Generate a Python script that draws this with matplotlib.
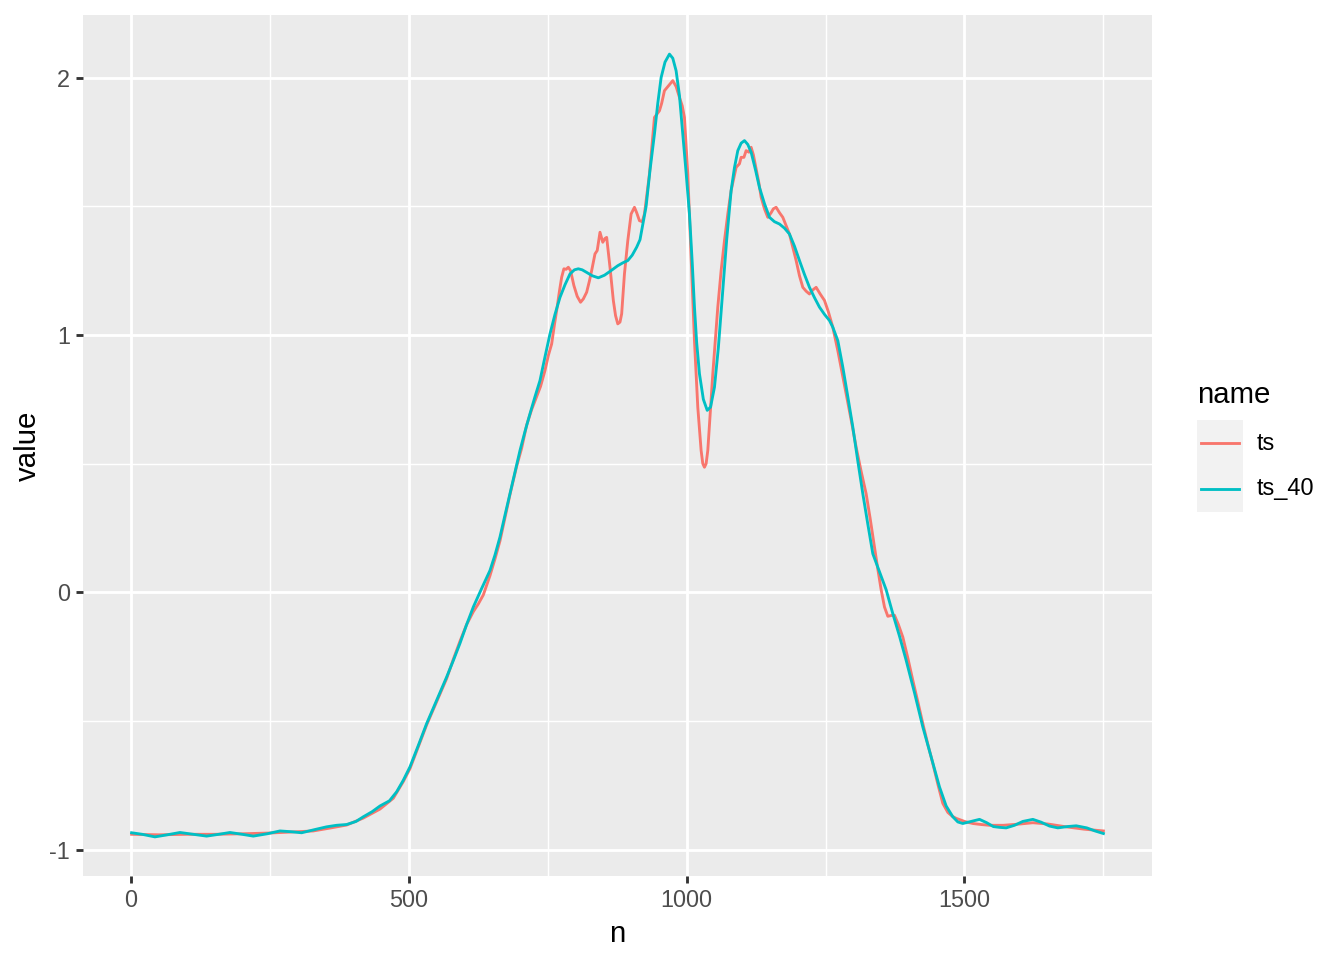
import matplotlib
matplotlib.use("Agg")
import matplotlib.pyplot as plt
from matplotlib.lines import Line2D
from matplotlib.patches import Rectangle

plt.rcParams['font.family'] = ['Liberation Sans', 'DejaVu Sans']
plt.rcParams['axes.unicode_minus'] = False

# series
ts_n = [1, 50, 100, 150, 200, 250, 300, 328, 360, 388, 418, 448, 472, 490, 502,
        517, 532, 550, 568, 580, 592, 604, 616, 625, 634, 646, 655, 664, 673, 682,
        694, 703, 712, 721, 730, 737, 745, 751, 757, 762, 766, 771, 775, 779, 783,
        787, 791, 797, 803, 809, 814, 820, 825, 829, 835, 839, 844, 849, 853, 856,
        862, 868, 872, 876, 880, 883, 888, 894, 900, 906, 910, 915, 920, 924, 933,
        942, 951, 955, 960, 968, 975, 981, 987, 992, 996, 1002, 1008, 1014, 1020,
        1026, 1029, 1032, 1035, 1038, 1047, 1056, 1062, 1068, 1074, 1080, 1089,
        1095, 1098, 1103, 1107, 1112, 1116, 1120, 1125, 1130, 1134, 1140, 1146,
        1152, 1156, 1161, 1167, 1173, 1179, 1185, 1191, 1197, 1203, 1209, 1215,
        1221, 1227, 1233, 1240, 1248, 1255, 1263, 1272, 1280, 1287, 1296, 1305,
        1314, 1323, 1330, 1338, 1344, 1350, 1356, 1362, 1368, 1374, 1381, 1389,
        1398, 1407, 1416, 1425, 1434, 1443, 1452, 1461, 1470, 1478, 1485, 1500,
        1515, 1530, 1545, 1570, 1600, 1623, 1650, 1683, 1715, 1750]
ts_v = [-0.94, -0.942, -0.94, -0.94, -0.938, -0.935, -0.93, -0.927, -0.915, -0.904,
        -0.877, -0.842, -0.80, -0.735, -0.685, -0.60, -0.515, -0.425, -0.335, -0.26,
        -0.19, -0.125, -0.075, -0.045, -0.01, 0.065, 0.13, 0.20, 0.29, 0.38,
        0.49, 0.56, 0.65, 0.71, 0.76, 0.80, 0.862, 0.92, 0.965, 1.04, 1.095, 1.17,
        1.224, 1.257, 1.255, 1.263, 1.25, 1.192, 1.15, 1.127, 1.14, 1.166, 1.21,
        1.25, 1.315, 1.328, 1.399, 1.36, 1.375, 1.379, 1.263, 1.134, 1.075, 1.043,
        1.05, 1.082, 1.237, 1.366, 1.47, 1.496, 1.475, 1.444, 1.44, 1.47, 1.625,
        1.845, 1.871, 1.90, 1.949, 1.97, 1.988, 1.965, 1.923, 1.89, 1.845, 1.625,
        1.302, 0.978, 0.719, 0.551, 0.50, 0.486, 0.50, 0.551, 0.849, 1.108, 1.25,
        1.366, 1.47, 1.561, 1.651, 1.665, 1.69, 1.69, 1.716, 1.71, 1.729, 1.70,
        1.645, 1.59, 1.535, 1.49, 1.457, 1.475, 1.49, 1.496, 1.475, 1.457, 1.425,
        1.392, 1.34, 1.289, 1.23, 1.185, 1.17, 1.159, 1.175, 1.185, 1.16, 1.134,
        1.09, 1.03, 0.939, 0.85, 0.771, 0.67, 0.564, 0.47, 0.383, 0.29, 0.176,
        0.09, 0.01, -0.057, -0.093, -0.09, -0.089, -0.125, -0.174, -0.255, -0.342,
        -0.425, -0.51, -0.59, -0.665, -0.745, -0.82, -0.855, -0.87, -0.878, -0.89,
        -0.898, -0.902, -0.905, -0.905, -0.90, -0.895, -0.90, -0.911, -0.92, -0.927]

ts40_n = [1, 20, 43, 65, 88, 112, 136, 158, 178, 200, 220, 245, 268, 288, 307, 330,
          352, 370, 388, 405, 418, 434, 448, 465, 478, 490, 502, 517, 532, 550, 568,
          580, 592, 604, 616, 631, 646, 655, 664, 673, 682, 691, 700, 709, 718, 727,
          736, 745, 754, 763, 772, 781, 790, 798, 805, 812, 820, 830, 841, 852, 862,
          876, 885, 894, 902, 910, 916, 921, 927, 934, 942, 948, 954, 961, 969, 975,
          981, 987, 993, 999, 1005, 1010, 1014, 1018, 1023, 1030, 1037, 1043, 1050,
          1057, 1065, 1072, 1080, 1086, 1092, 1098, 1104, 1110, 1116, 1124, 1131,
          1140, 1149, 1158, 1167, 1176, 1185, 1194, 1203, 1212, 1221, 1230, 1239,
          1248, 1257, 1263, 1272, 1281, 1290, 1299, 1308, 1317, 1326, 1335, 1347,
          1359, 1371, 1383, 1395, 1410, 1425, 1440, 1455, 1467, 1479, 1488, 1497,
          1512, 1527, 1540, 1552, 1563, 1575, 1590, 1605, 1623, 1638, 1653, 1668,
          1685, 1701, 1720, 1735, 1750]
ts40_v = [-0.934, -0.94, -0.95, -0.942, -0.933, -0.94, -0.947, -0.94, -0.933, -0.94,
          -0.947, -0.938, -0.927, -0.93, -0.934, -0.922, -0.911, -0.905, -0.902,
          -0.89, -0.872, -0.852, -0.83, -0.81, -0.775, -0.73, -0.678, -0.595, -0.51,
          -0.42, -0.329, -0.265, -0.198, -0.125, -0.057, 0.015, 0.085, 0.145, 0.215,
          0.30, 0.383, 0.467, 0.551, 0.625, 0.694, 0.76, 0.823, 0.915, 1.004, 1.08,
          1.146, 1.195, 1.237, 1.253, 1.257, 1.253, 1.243, 1.23, 1.222, 1.232, 1.247,
          1.269, 1.28, 1.289, 1.31, 1.341, 1.37, 1.43, 1.50, 1.64, 1.781, 1.90, 2.0,
          2.06, 2.091, 2.075, 2.026, 1.93, 1.781, 1.63, 1.47, 1.28, 1.108, 0.97,
          0.849, 0.75, 0.707, 0.72, 0.797, 0.95, 1.172, 1.37, 1.561, 1.65, 1.716,
          1.745, 1.755, 1.74, 1.71, 1.64, 1.573, 1.51, 1.457, 1.44, 1.431, 1.415,
          1.392, 1.345, 1.289, 1.235, 1.185, 1.145, 1.108, 1.08, 1.056, 1.03, 0.978,
          0.875, 0.76, 0.642, 0.51, 0.383, 0.265, 0.15, 0.08, 0.01, -0.083, -0.17,
          -0.264, -0.39, -0.523, -0.64, -0.756, -0.83, -0.872, -0.892, -0.898, -0.89,
          -0.882, -0.895, -0.91, -0.913, -0.915, -0.905, -0.89, -0.882, -0.893,
          -0.908, -0.915, -0.91, -0.907, -0.915, -0.927, -0.937]

series_names = ["ts", "ts_40"]
series_colors = ["#F8766D", "#00BFC4"]

fig = plt.figure(figsize=(7, 5), dpi=192)
ax = fig.add_axes([83 / 1344, 1 - 876 / 960, (1152 - 83) / 1344, (876 - 15) / 960])

ax.set_facecolor("#EBEBEB")
for s in ax.spines.values():
    s.set_visible(False)

ax.plot(ts_n, ts_v, color=series_colors[0], lw=1.07, zorder=3)
ax.plot(ts40_n, ts40_v, color=series_colors[1], lw=1.07, zorder=4)

ax.set_xlim(-86.45, 1837.45)
ax.set_ylim(-1.102, 2.243)
ax.set_xticks([0, 500, 1000, 1500])
ax.set_xticks([250, 750, 1250, 1750], minor=True)
ax.set_yticks([-1, 0, 1, 2])
ax.set_yticks([-0.5, 0.5, 1.5], minor=True)
ax.grid(which="major", color="white", lw=1.07)
ax.grid(which="minor", color="white", lw=0.53)
ax.set_axisbelow(True)
ax.tick_params(which="major", length=2.75, width=1.07, color="#333333",
               labelcolor="#4D4D4D", labelsize=8.8, pad=2.2)
ax.tick_params(which="minor", length=0)

ax.set_xlabel("n", fontsize=11, labelpad=2.75)
ax.set_ylabel("value", fontsize=11, labelpad=2.75)

# legend, drawn like ggplot's guide
tr = fig.transFigure
W, H = 1344, 960
fig.text(1197 / W, 1 - 395 / H, "name", fontsize=11, ha="left", va="center")
fig.add_artist(Rectangle((1197 / W, 1 - 512 / H), 46 / W, 92 / H,
                         transform=tr, facecolor="#F2F2F2", edgecolor="none"))
for i, (nm, c) in enumerate(zip(series_names, series_colors)):
    yy = 1 - (443 + 46 * i) / H
    fig.add_artist(Line2D([1201 / W, 1239 / W], [yy, yy], transform=tr,
                          color=c, lw=1.07))
    fig.text(1257 / W, yy, nm, fontsize=8.8, ha="left", va="center")

fig.savefig("out.png", dpi=192)
